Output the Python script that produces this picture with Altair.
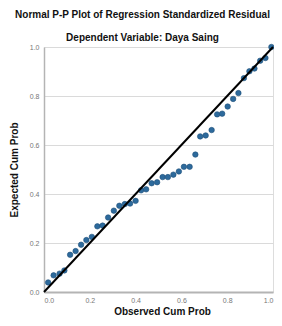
import altair as alt
import pandas as pd

observed = [0.018, 0.042, 0.068, 0.089, 0.114, 0.138, 0.162, 0.185, 0.209, 0.233,
            0.256, 0.280, 0.305, 0.329, 0.353, 0.376, 0.400, 0.424, 0.446, 0.470,
            0.494, 0.518, 0.541, 0.565, 0.589, 0.611, 0.636, 0.661, 0.682, 0.706,
            0.732, 0.756, 0.778, 0.802, 0.826, 0.849, 0.873, 0.897, 0.919, 0.944,
            0.967, 0.993]
expected = [0.039, 0.068, 0.075, 0.088, 0.152, 0.167, 0.193, 0.212, 0.225, 0.268,
            0.271, 0.304, 0.332, 0.352, 0.359, 0.361, 0.372, 0.415, 0.419, 0.444,
            0.448, 0.469, 0.469, 0.479, 0.492, 0.511, 0.511, 0.561, 0.635, 0.639,
            0.661, 0.725, 0.728, 0.757, 0.788, 0.812, 0.873, 0.901, 0.912, 0.944,
            0.955, 1.000]
line_x = [0.0, 1.0]
line_y = [0.0, 1.0]
ticks = [0.0, 0.2, 0.4, 0.6, 0.8, 1.0]

pts = pd.DataFrame({"obs": observed, "exp": expected})
ref = pd.DataFrame({"obs": line_x, "exp": line_y})

FONT = "Liberation Sans"

xs = alt.Scale(domain=[0, 1], nice=False, zero=False)
ys = alt.Scale(domain=[0, 1], nice=False, zero=False)

xaxis = alt.Axis(title="Observed Cum Prob", values=ticks, format=".1f",
                 grid=False, ticks=False, domainColor="#b4b4b4", domainWidth=2,
                 labelColor="#777777", labelFontSize=7, labelFont=FONT, labelPadding=4,
                 labelFlush=True,
                 titleFont=FONT, titleFontSize=10, titleFontWeight="bold",
                 titleColor="#111111", titlePadding=3, titleX=118, titleAlign="center")
yaxis = alt.Axis(title="Expected Cum Prob", values=ticks, format=".1f",
                 grid=True, gridColor="#dadada", gridWidth=1, ticks=False,
                 domainColor="#b4b4b4", domainWidth=1.5,
                 labelColor="#777777", labelFontSize=7, labelFont=FONT, labelPadding=5,
                 titleFont=FONT, titleFontSize=10, titleFontWeight="bold",
                 titleColor="#111111", titlePadding=10)

points = alt.Chart(pts).mark_circle(size=30, color="#2d6a9c", opacity=1,
                                     stroke="#1f4f78", strokeWidth=0.6).encode(
    x=alt.X("obs:Q", scale=xs, axis=xaxis),
    y=alt.Y("exp:Q", scale=ys, axis=yaxis),
)
line = alt.Chart(ref).mark_line(color="#000000", strokeWidth=2).encode(
    x=alt.X("obs:Q", scale=xs),
    y=alt.Y("exp:Q", scale=ys),
)

chart = (points + line).properties(
    width=229, height=245,
    autosize=alt.AutoSizeParams(type="none"),
    padding={"left": 36, "top": 39, "right": 1, "bottom": 26},
    title=alt.TitleParams(
        text="Normal P-P Plot of Regression Standardized Residual",
        subtitle="Dependent Variable: Daya Saing",
        font=FONT, fontSize=10, fontWeight="bold", color="#111111",
        subtitleFont=FONT, subtitleFontSize=10, subtitleFontWeight="bold",
        subtitleColor="#111111", subtitlePadding=13,
        anchor="middle", dx=-16, offset=0,
    ),
).configure_view(stroke=None).configure(background="white")

chart.save("out.html", embed_options={"renderer": "svg", "actions": False})
